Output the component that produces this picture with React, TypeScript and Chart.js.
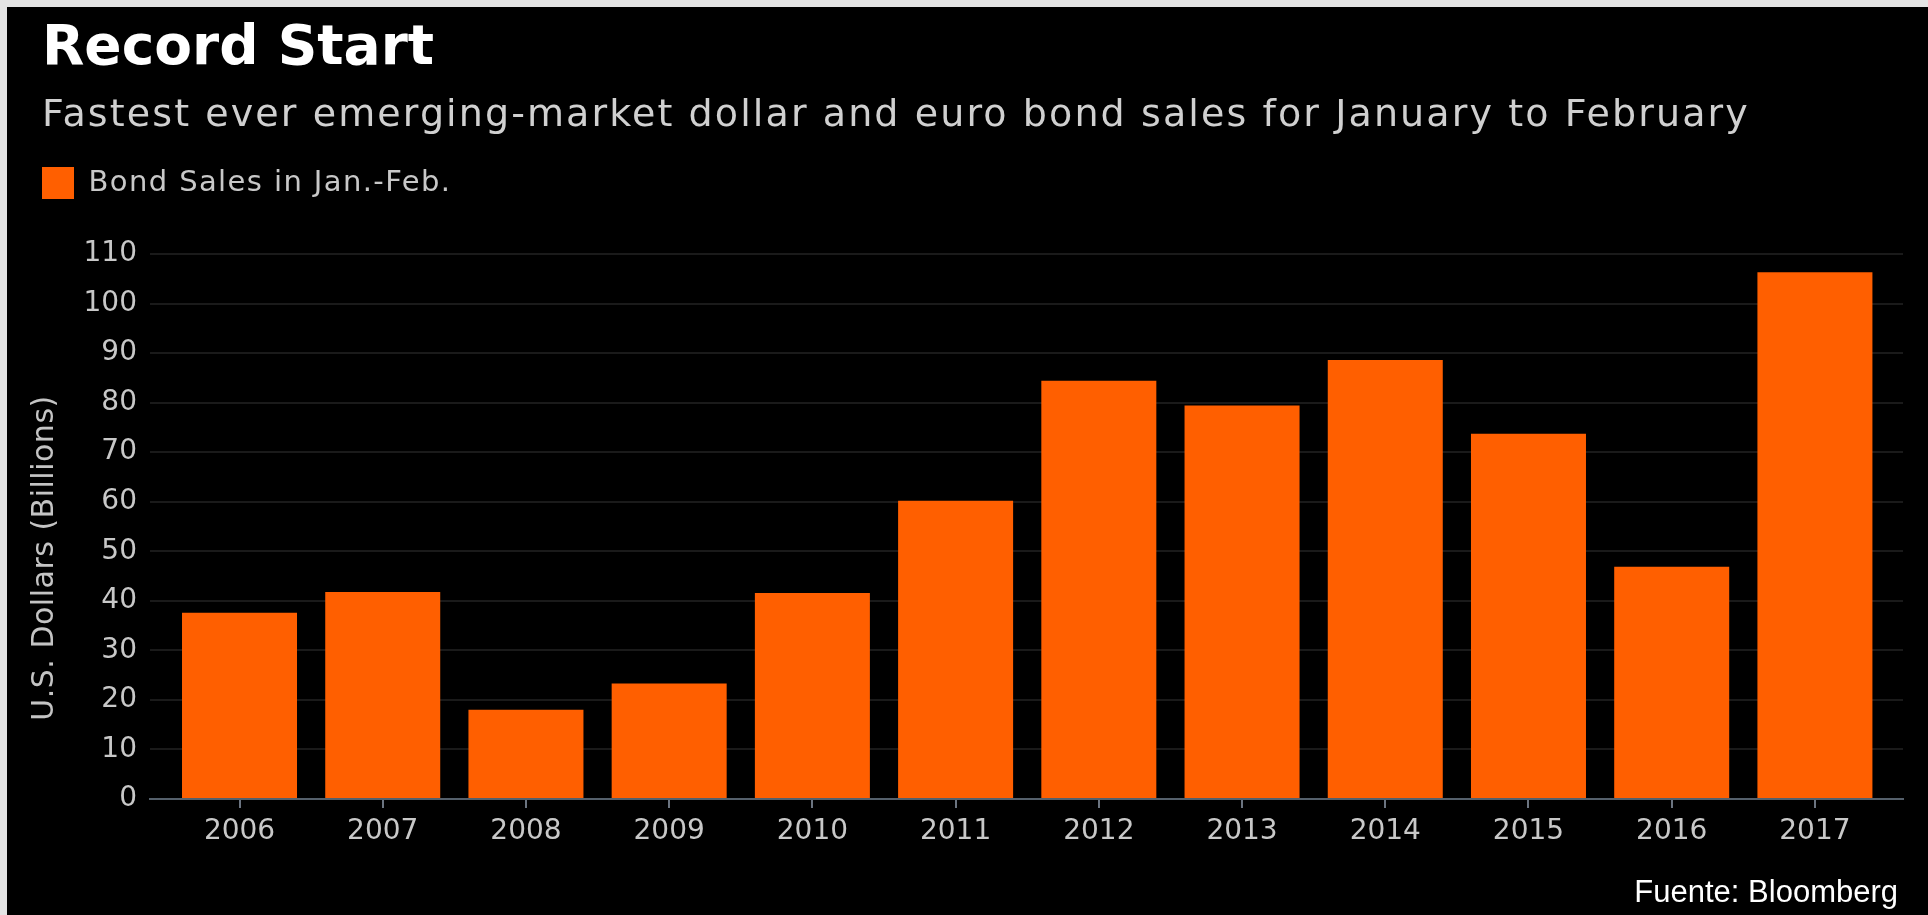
import React, { useEffect, useRef } from 'react';
import { Chart, registerables } from 'chart.js';

Chart.register(...registerables);

// ---- data ----
const years = ['2006', '2007', '2008', '2009', '2010', '2011', '2012', '2013', '2014', '2015', '2016', '2017'];
const bondSales = [37.6, 41.8, 18.0, 23.3, 41.6, 60.2, 84.4, 79.4, 88.6, 73.7, 46.9, 106.3];
const yMin = 0;
const yMax = 110;
const yStep = 10;

const TITLE = 'Record Start';
const SUBTITLE = 'Fastest ever emerging-market dollar and euro bond sales for January to February';
const SERIES_LABEL = 'Bond Sales in Jan.-Feb.';
const Y_TITLE = 'U.S. Dollars (Billions)';
const SOURCE = 'Fuente: Bloomberg';

const FONT = '"DejaVu Sans", "Noto Sans", sans-serif';

const legendSpacing = {
  id: 'legendSpacing',
  afterInit(chart: any) {
    const legend = chart.legend;
    if (!legend || legend._patched) return;
    const orig = legend.fit;
    legend.fit = function () {
      orig.call(this);
      this.height += 45;
    };
    legend._patched = true;
  },
};

// per-box letter spacing to mimic the wider-set original typeface
const letterSpacingPatch = {
  id: 'letterSpacingPatch',
  afterLayout(chart: any) {
    chart.boxes.forEach((box: any) => {
      if (box._lsPatched) return;
      let ls: string | null = null;
      if (box.options && box.options.text === SUBTITLE) ls = '2.1px';
      else if (box === chart.legend) ls = '1.4px';
      else if (box.id === 'x') ls = '0.8px';
      if (ls === null) return;
      const orig = box.draw;
      box.draw = function (...args: any[]) {
        const c = this.ctx;
        const prev = c.letterSpacing;
        c.letterSpacing = ls;
        orig.apply(this, args);
        c.letterSpacing = prev;
      };
      box._lsPatched = true;
    });
  },
};

const extraText = {
  id: 'extraText',
  afterDraw(chart: any) {
    const ctx = chart.ctx;
    ctx.save();
    ctx.translate(38, 551);
    ctx.rotate(-Math.PI / 2);
    ctx.font = `30px ${FONT}`;
    ctx.letterSpacing = '0.5px';
    ctx.fillStyle = '#c4c4c4';
    ctx.textAlign = 'center';
    ctx.textBaseline = 'middle';
    ctx.fillText(Y_TITLE, 0, 0);
    ctx.restore();

    ctx.save();
    ctx.font = '31px "Liberation Sans", Arial, sans-serif';
    ctx.fillStyle = '#ffffff';
    ctx.textAlign = 'right';
    ctx.textBaseline = 'alphabetic';
    ctx.fillText(SOURCE, 1891, 895);
    ctx.restore();
  },
};

export default function App() {
  const ref = useRef<HTMLCanvasElement | null>(null);

  useEffect(() => {
    if (!ref.current) return;
    const chart = new Chart(ref.current, {
      type: 'bar',
      data: {
        datasets: [
          {
            label: SERIES_LABEL,
            data: years.map((_, i) => ({ x: i, y: bondSales[i] })),
            backgroundColor: '#ff5f00',
            borderWidth: 0,
            barPercentage: 0.803,
            categoryPercentage: 1,
          },
        ],
      },
      options: {
        responsive: false,
        animation: false,
        layout: { padding: { left: 35, right: 25, top: 0, bottom: 46 } },
        plugins: {
          title: {
            display: true,
            text: TITLE,
            align: 'start',
            color: '#ffffff',
            font: { family: FONT, size: 55, weight: 'bold', lineHeight: 1 },
            padding: { top: 15, bottom: 0 },
          },
          subtitle: {
            display: true,
            text: SUBTITLE,
            align: 'start',
            color: '#d0d0d0',
            font: { family: FONT, size: 38, lineHeight: 1 },
            padding: { top: 20, bottom: 32 },
          },
          legend: {
            display: true,
            position: 'top',
            align: 'start',
            labels: {
              boxWidth: 32,
              boxHeight: 32,
              padding: 0,
              color: '#c8c8c8',
              font: { family: FONT, size: 29 },
            },
          },
          tooltip: { enabled: false },
        },
        scales: {
          x: {
            type: 'linear',
            offset: false,
            min: -0.625,
            max: years.length - 1 + 0.615,
            grid: {
              display: true,
              offset: false,
              drawOnChartArea: false,
              drawTicks: true,
              tickLength: 9,
              color: '#6b7480',
              lineWidth: 2,
            },
            border: { display: true, color: '#55606b', width: 2 },
            ticks: {
              stepSize: 1,
              includeBounds: false,
              autoSkip: false,
              maxTicksLimit: 30,
              maxRotation: 0,
              padding: 7,
              color: '#c8c8c8',
              font: { family: FONT, size: 28 },
              callback: (v: any) => (Number.isInteger(v) && years[v] !== undefined ? years[v] : ''),
            },
            afterFit: (scale: any) => {
              scale.height = 70;
            },
          },
          y: {
            min: yMin,
            max: yMax,
            grid: {
              color: '#1a1a1a',
              lineWidth: 2,
              drawTicks: false,
            },
            border: { display: false },
            ticks: {
              stepSize: yStep,
              padding: 13,
              color: '#c8c8c8',
              font: { family: FONT, size: 28 },
            },
            afterFit: (scale: any) => {
              scale.width = 108;
            },
          },
        },
      },
      plugins: [legendSpacing, letterSpacingPatch, extraText],
    } as any);
    return () => chart.destroy();
  }, []);

  return (
    <div style={{ position: 'fixed', left: 0, top: 0, width: 1928, height: 915, background: '#e4e4e4' }}>
      <div style={{ position: 'absolute', left: 7, top: 7, width: 1921, height: 908, background: '#000000' }}>
        <canvas ref={ref} width={1921} height={908} style={{ display: 'block', width: 1921, height: 908 }} />
      </div>
    </div>
  );
}
